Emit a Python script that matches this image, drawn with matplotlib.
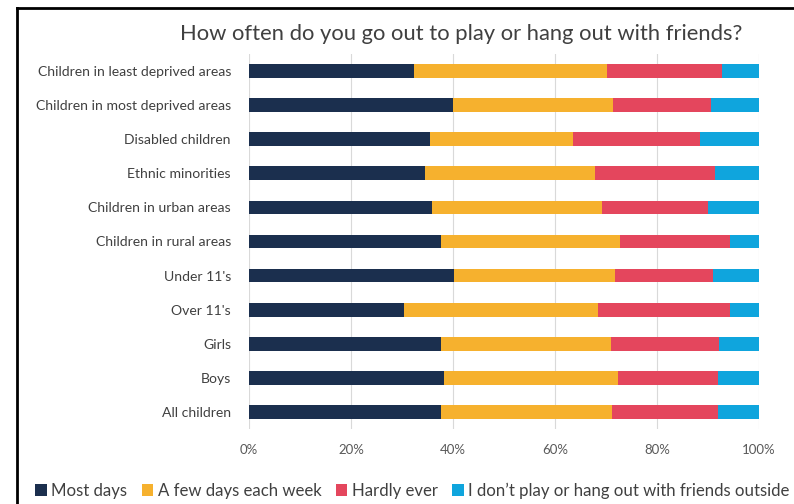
import numpy as np
import matplotlib.pyplot as plt
from matplotlib.patches import Patch
from matplotlib.lines import Line2D

plt.rcParams['font.family'] = ['Lato', 'DejaVu Sans']

# groups, top to bottom
groups = ['Children in least deprived areas', 'Children in most deprived areas',
          'Disabled children', 'Ethnic minorities', 'Children in urban areas',
          'Children in rural areas', "Under 11's", "Over 11's", 'Girls', 'Boys',
          'All children']

# share of answers (%)
most_days = [32.4, 40.0, 35.5, 34.6, 35.9, 37.7, 40.2, 30.3, 37.7, 38.2, 37.7]
few_days = [37.8, 31.4, 28.0, 33.2, 33.3, 35.0, 31.6, 38.2, 33.2, 34.1, 33.4]
hardly_ever = [22.5, 19.2, 24.9, 23.6, 20.8, 21.6, 19.2, 25.8, 21.3, 19.7, 20.9]
never_out = [7.3, 9.4, 11.6, 8.6, 10.0, 5.7, 9.0, 5.7, 7.8, 8.0, 8.0]

series = [most_days, few_days, hardly_ever, never_out]
names = ['Most days', 'A few days each week', 'Hardly ever',
         'I don\u2019t play or hang out with friends outside']
colours = ['#1b2f4e', '#f6b12e', '#e4465d', '#0fa5dd']

fig = plt.figure(figsize=(7.94, 5.04), dpi=100)
ax = fig.add_axes([249/794, 1 - 429/504, 510/794, 375/504])

y = np.arange(len(groups))
left = np.zeros(len(groups))
for vals, c in zip(series, colours):
    ax.barh(y, vals, left=left, height=0.4, color=c, zorder=2)
    left += np.array(vals)

ax.set_xlim(0, 100)
ax.set_ylim(len(groups) - 0.5, -0.5)
ax.set_yticks(y)
ax.set_yticklabels(groups, fontsize=10.1, color='#404040')
ax.set_xticks([0, 20, 40, 60, 80, 100])
ax.set_xticklabels(['0%', '20%', '40%', '60%', '80%', '100%'], fontsize=9.5, color='#595959')
ax.tick_params(length=0)
ax.tick_params(axis='x', pad=11)
ax.tick_params(axis='y', pad=13)
ax.xaxis.grid(True, color='#d9d9d9', lw=0.8, zorder=0)
for s in ax.spines.values():
    s.set_visible(False)

fig.text(461/794, 1 - 34/504, 'How often do you go out to play or hang out with friends?',
         ha='center', va='center', fontsize=15.8, color='#404040')

handles = [Patch(facecolor=c) for c in colours]
fig.legend(handles, names, loc='center left', bbox_to_anchor=(27/794, 1 - 491/504),
           ncol=4, frameon=False, fontsize=12.1, handlelength=0.7, handleheight=0.7,
           handletextpad=0.25, columnspacing=0.85, borderpad=0, labelcolor='#404040')

# frame around the chart
fig.add_artist(Line2D([17/794, 17/794], [0, 1 - 8/504], color='black', lw=2))
fig.add_artist(Line2D([17/794, 1], [1 - 8/504, 1 - 8/504], color='black', lw=2))

fig.savefig('out.png', dpi=100)
